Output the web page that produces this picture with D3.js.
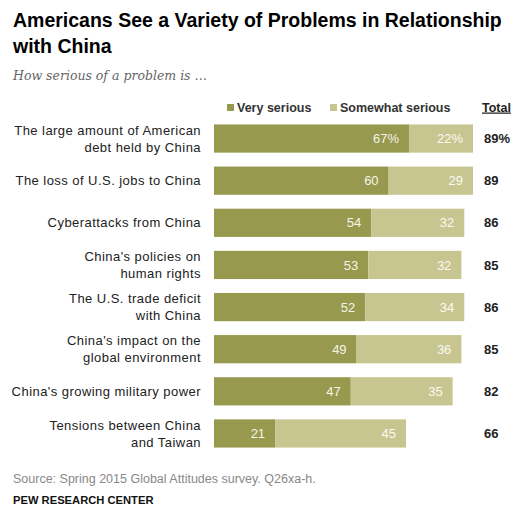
<!DOCTYPE html>
<html>
<head>
<meta charset="utf-8">
<script src="https://cdn.jsdelivr.net/npm/d3@7"></script>
<style>
  html, body { margin: 0; padding: 0; background: #fff; }
  svg { display: block; }
</style>
</head>
<body>
<script>
// Survey items (two-line labels split with "|")
const categories = [
  "The large amount of American|debt held by China",
  "The loss of U.S. jobs to China",
  "Cyberattacks from China",
  "China's policies on|human rights",
  "The U.S. trade deficit|with China",
  "China's impact on the|global environment",
  "China's growing military power",
  "Tensions between China|and Taiwan"
];
const verySerious     = [67, 60, 54, 53, 52, 49, 47, 21];
const somewhatSerious = [22, 29, 32, 32, 34, 36, 35, 45];
const totals          = [89, 89, 86, 85, 86, 85, 82, 66];
const seriesNames = ["Very serious", "Somewhat serious"];
const colors = ["#979a4e", "#c8c690"];

const W = 512, H = 523;
const svg = d3.select("body").append("svg").attr("width", W).attr("height", H);

const sans = "'Liberation Sans', Arial, sans-serif";

// Title
svg.append("text").attr("x", 13).attr("y", 27)
  .attr("font-family", sans).attr("font-weight", "bold").attr("font-size", 19.5)
  .attr("fill", "#000")
  .text("Americans See a Variety of Problems in Relationship");
svg.append("text").attr("x", 13).attr("y", 53)
  .attr("font-family", sans).attr("font-weight", "bold").attr("font-size", 19.5)
  .attr("fill", "#000")
  .text("with China");

// Subtitle
svg.append("text").attr("x", 13).attr("y", 80)
  .attr("font-family", "'DejaVu Serif', Georgia, serif").attr("font-style", "italic")
  .attr("font-size", 12.5).attr("fill", "#666")
  .text("How serious of a problem is …");

// Scales
const x = d3.scaleLinear().domain([0, 89]).range([214, 473]);
const y = d3.scaleBand().domain(d3.range(categories.length)).range([116, 456]).paddingInner(0.33).paddingOuter(0.2);

const rows = categories.map((c, i) => ({
  label: c, i,
  segs: [
    { k: 0, x0: 0, x1: verySerious[i], v: verySerious[i] },
    { k: 1, x0: verySerious[i], x1: verySerious[i] + somewhatSerious[i], v: somewhatSerious[i] }
  ],
  total: totals[i]
}));

const g = svg.append("g");
const row = g.selectAll("g.row").data(rows).join("g").attr("class", "row");

row.selectAll("rect").data(d => d.segs.map(s => ({ ...s, i: d.i })))
  .join("rect")
  .attr("x", s => x(s.x0))
  .attr("width", s => x(s.x1) - x(s.x0))
  .attr("y", s => y(s.i))
  .attr("height", y.bandwidth())
  .attr("fill", s => colors[s.k]);

// Values inside bars
row.selectAll("text.val").data(d => d.segs.map(s => ({ ...s, i: d.i })))
  .join("text").attr("class", "val")
  .attr("x", s => x(s.x1) - 10)
  .attr("y", s => y(s.i) + y.bandwidth() / 2)
  .attr("dy", "0.36em")
  .attr("text-anchor", "end")
  .attr("font-family", sans).attr("font-size", 13)
  .attr("fill", s => s.k === 0 ? "#f4f4ea" : "#fafaf2")
  .text(s => s.v + (s.i === 0 ? "%" : ""));

// Totals
row.append("text")
  .attr("x", 484)
  .attr("y", d => y(d.i) + y.bandwidth() / 2)
  .attr("dy", "0.36em")
  .attr("font-family", sans).attr("font-weight", "bold").attr("font-size", 13)
  .attr("fill", "#222")
  .text(d => d.total + (d.i === 0 ? "%" : ""));

// Category labels
row.each(function (d) {
  const lines = d.label.split("|");
  const cy = y(d.i) + y.bandwidth() / 2;
  const lh = 17;
  const t = d3.select(this).append("text")
    .attr("text-anchor", "end")
    .attr("font-family", sans).attr("font-size", 13)
    .attr("letter-spacing", 0.45)
    .attr("fill", "#222");
  lines.forEach((ln, j) => {
    t.append("tspan").attr("x", 201)
      .attr("y", cy + (j - (lines.length - 1) / 2) * lh)
      .attr("dy", "0.36em")
      .text(ln);
  });
});

// Legend
const leg = svg.append("g");
const legX = [227, 330];
seriesNames.forEach((n, k) => {
  leg.append("rect").attr("x", legX[k]).attr("y", 104).attr("width", 7).attr("height", 7).attr("fill", colors[k]);
  leg.append("text").attr("x", legX[k] + 10).attr("y", 111.5)
    .attr("font-family", sans).attr("font-weight", "bold").attr("font-size", 12.5)
    .attr("fill", "#333").text(n);
});
leg.append("text").attr("x", 482).attr("y", 111.5)
  .attr("font-family", sans).attr("font-weight", "bold").attr("font-size", 12.5)
  .attr("fill", "#222").attr("text-decoration", "underline").text("Total");

// Footer
svg.append("text").attr("x", 13).attr("y", 483)
  .attr("font-family", sans).attr("font-size", 12.5).attr("fill", "#888")
  .text("Source: Spring 2015 Global Attitudes survey. Q26xa-h.");
svg.append("text").attr("x", 13).attr("y", 504)
  .attr("font-family", sans).attr("font-weight", "bold").attr("font-size", 11.2)
  .attr("fill", "#111")
  .text("PEW RESEARCH CENTER");
</script>
</body>
</html>
